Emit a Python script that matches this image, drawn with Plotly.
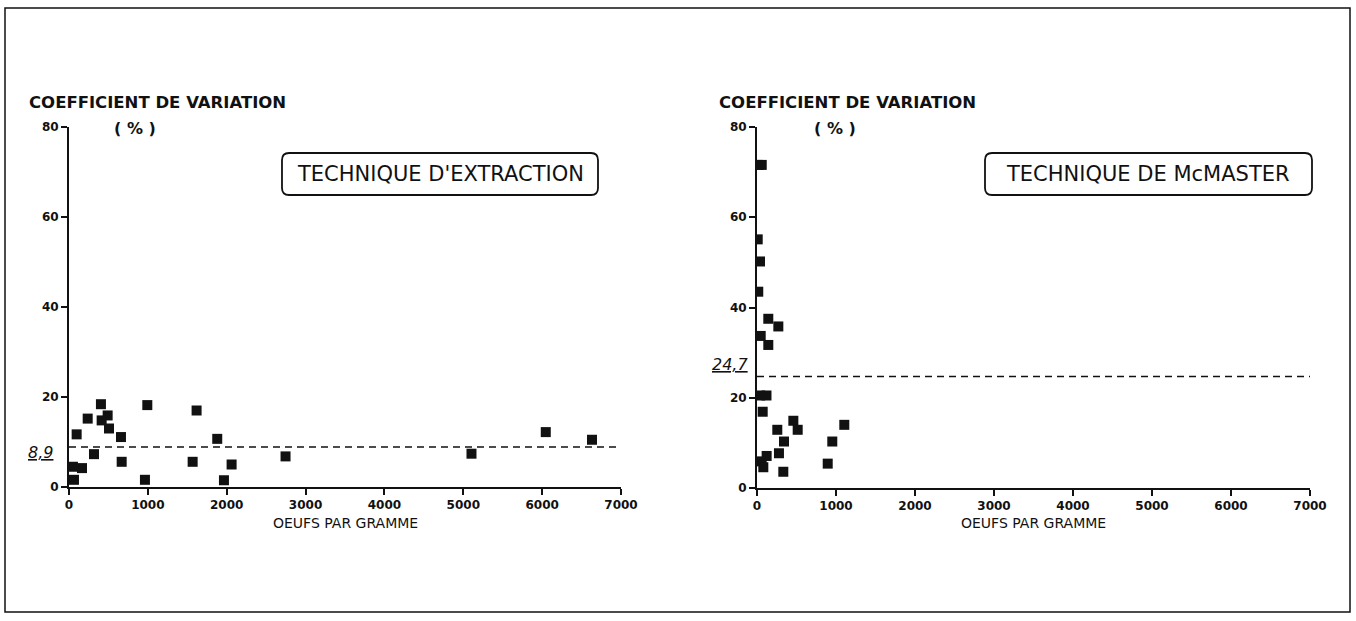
import plotly.graph_objects as go

W, H = 1356, 621

# ---- data ----
extraction_x = [63, 50, 165, 97, 237, 317, 405, 414, 490, 507, 659, 668, 993, 963,
                1618, 1568, 1880, 1965, 2062, 2746, 5104, 6046, 6632]
extraction_y = [1.6, 4.5, 4.2, 11.7, 15.2, 7.3, 18.4, 14.8, 15.9, 13.0, 11.1, 5.6, 18.2, 1.6,
                17.0, 5.6, 10.7, 1.5, 5.0, 6.8, 7.4, 12.2, 10.5]
extraction_mean = 8.9

mcmaster_x = [20, 60, 9, 38, 16, 143, 270, 47, 143, 40, 120, 72, 257, 460, 515, 1105,
              342, 953, 278, 122, 59, 80, 895, 333]
mcmaster_y = [71.6, 71.6, 55.1, 50.2, 43.5, 37.5, 35.8, 33.7, 31.7, 20.5, 20.5, 16.9, 12.9, 14.9, 12.9, 14.0,
              10.3, 10.3, 7.7, 7.1, 5.9, 4.6, 5.4, 3.6]
mcmaster_mean = 24.7

x_ticks = [0, 1000, 2000, 3000, 4000, 5000, 6000, 7000]
y_ticks = [0, 20, 40, 60, 80]
y_title = "COEFFICIENT DE VARIATION"
y_unit = "( % )"
x_title = "OEUFS PAR GRAMME"
panel_titles = ["TECHNIQUE D'EXTRACTION", "TECHNIQUE DE McMASTER"]
mean_labels = ["8,9", "24,7"]


def px(x):
    return x / W


def py(y):
    return 1 - y / H


FONT = "DejaVu Sans"
INK = "#111111"

fig = go.Figure()

# scatter points
fig.add_trace(go.Scatter(x=extraction_x, y=extraction_y, mode="markers",
                         marker=dict(symbol="square", size=10, color=INK),
                         xaxis="x", yaxis="y", showlegend=False))
fig.add_trace(go.Scatter(x=mcmaster_x, y=mcmaster_y, mode="markers",
                         marker=dict(symbol="square", size=10, color=INK),
                         xaxis="x2", yaxis="y2", showlegend=False))
# mean lines
fig.add_trace(go.Scatter(x=[0, 7000], y=[extraction_mean, extraction_mean], mode="lines",
                         line=dict(color=INK, width=1.5, dash="7px,5px"),
                         xaxis="x", yaxis="y", showlegend=False))
fig.add_trace(go.Scatter(x=[0, 7050], y=[mcmaster_mean, mcmaster_mean], mode="lines",
                         line=dict(color=INK, width=1.5, dash="7px,5px"),
                         xaxis="x2", yaxis="y2", showlegend=False))

axis_common = dict(showgrid=False, zeroline=False, showline=True, linecolor=INK, linewidth=2,
                   ticks="outside", ticklen=6, tickwidth=1.5, tickcolor=INK, automargin=False,
                   tickfont=dict(family=FONT, size=12, color=INK, weight="bold"))

fig.update_layout(
    width=W, height=H,
    margin=dict(l=0, r=0, t=0, b=0, pad=0),
    paper_bgcolor="white", plot_bgcolor="white",
    xaxis=dict(domain=[px(69), px(621)], range=[0, 7000], tickvals=x_ticks, anchor="y", **axis_common),
    yaxis=dict(domain=[py(487), py(127)], range=[0, 80], tickvals=y_ticks, anchor="x", **axis_common),
    xaxis2=dict(domain=[px(757), px(1310)], range=[0, 7000], tickvals=x_ticks, anchor="y2", **axis_common),
    yaxis2=dict(domain=[py(488), py(127)], range=[0, 80], tickvals=y_ticks, anchor="x2", **axis_common),
)


def rounded_rect(x0, y0, x1, y1, r):
    X = lambda v: f"{px(v):.5f}"
    Y = lambda v: f"{py(v):.5f}"
    return (f"M {X(x0 + r)},{Y(y0)} L {X(x1 - r)},{Y(y0)} Q {X(x1)},{Y(y0)} {X(x1)},{Y(y0 + r)} "
            f"L {X(x1)},{Y(y1 - r)} Q {X(x1)},{Y(y1)} {X(x1 - r)},{Y(y1)} "
            f"L {X(x0 + r)},{Y(y1)} Q {X(x0)},{Y(y1)} {X(x0)},{Y(y1 - r)} "
            f"L {X(x0)},{Y(y0 + r)} Q {X(x0)},{Y(y0)} {X(x0 + r)},{Y(y0)} Z")


shapes = [
    dict(type="rect", xref="paper", yref="paper", x0=px(5), x1=px(1350), y0=py(612), y1=py(8),
         line=dict(color=INK, width=1.5)),
    dict(type="path", xref="paper", yref="paper", path=rounded_rect(282, 153, 598, 195, 7),
         line=dict(color=INK, width=1.8)),
    dict(type="path", xref="paper", yref="paper", path=rounded_rect(985, 153, 1312, 195, 7),
         line=dict(color=INK, width=1.8)),
]
fig.update_layout(shapes=shapes)

ann = []


def text(x, y, s, size, weight="normal", style="normal", xanchor="center"):
    ann.append(dict(x=px(x), y=py(y), xref="paper", yref="paper", text=s, showarrow=False,
                    xanchor=xanchor, yanchor="middle",
                    font=dict(family=FONT, size=size, color=INK, weight=weight, style=style)))


# left panel texts
text(27, 103, y_title, 16.5, "bold", xanchor="left")
text(135, 128, y_unit, 16, "bold")
text(345, 523, x_title, 14)
text(440, 174, panel_titles[0], 21)
text(40, 452, f"<u>{mean_labels[0]}</u>", 16, style="italic")
# right panel texts
text(717, 103, y_title, 16.5, "bold", xanchor="left")
text(835, 128, y_unit, 16, "bold")
text(1033, 523, x_title, 14)
text(1148, 174, panel_titles[1], 21)
text(730, 365, f"<u>{mean_labels[1]}</u>", 16, style="italic")

fig.update_layout(annotations=ann)

fig.write_html(
    "out.html",
    post_script="document.body.style.margin='0';document.body.style.overflow='hidden';"
                "document.documentElement.style.overflow='hidden';",
)
